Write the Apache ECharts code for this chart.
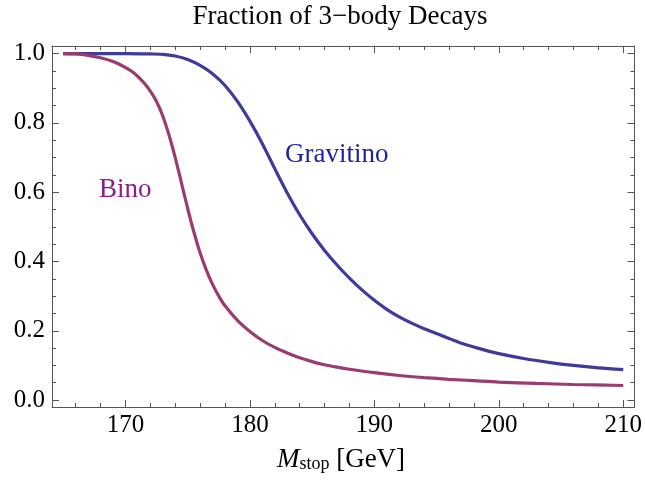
<!DOCTYPE html>
<html><head><meta charset="utf-8">
<script src="https://cdn.jsdelivr.net/npm/echarts@6/dist/echarts.min.js"></script>
<style>html,body{margin:0;padding:0;background:#fff}#c{width:645px;height:480px}</style>
</head><body><div id="c"></div>
<script>
const chartTitle = 'Fraction of 3\u2212body Decays';
const seriesNames = ['Gravitino', 'Bino'];
const xTicks = [170, 180, 190, 200, 210];
const xMinorTicks = [166, 168, 172, 174, 176, 178, 182, 184, 186, 188, 192, 194, 196, 198, 202, 204, 206, 208];
const yTicks = [0, 0.2, 0.4, 0.6, 0.8, 1.0];
const yMinorTicks = [0.05, 0.1, 0.15, 0.25, 0.3, 0.35, 0.45, 0.5, 0.55, 0.65, 0.7, 0.75, 0.85, 0.9, 0.95];

const gravX = [165, 168, 170, 172, 173, 174, 175, 176, 177, 178, 179, 180, 181, 182, 183, 184, 185, 186, 187, 188, 189, 190, 191, 192, 193, 194, 195, 196, 197, 198, 200, 202, 204, 206, 208, 210];
const gravY = [1.0, 1.0, 1.0, 0.999, 0.998, 0.993, 0.983, 0.966, 0.942, 0.908, 0.862, 0.805, 0.740, 0.668, 0.598, 0.535, 0.480, 0.432, 0.390, 0.352, 0.318, 0.288, 0.262, 0.240, 0.222, 0.206, 0.192, 0.178, 0.164, 0.153, 0.134, 0.120, 0.109, 0.100, 0.093, 0.088];

const binoX = [165, 166, 167, 168, 169, 170, 170.5, 171, 171.5, 172, 172.5, 173, 173.5, 174, 174.5, 175, 175.5, 176, 176.5, 177, 177.5, 178, 179, 180, 181, 182, 183, 184, 185, 186, 187, 188, 190, 192, 194, 196, 198, 200, 203, 206, 210];
const binoY = [1.0, 0.999, 0.995, 0.988, 0.977, 0.960, 0.949, 0.934, 0.915, 0.892, 0.862, 0.820, 0.765, 0.700, 0.627, 0.553, 0.485, 0.425, 0.375, 0.334, 0.300, 0.272, 0.230, 0.198, 0.172, 0.152, 0.136, 0.122, 0.111, 0.102, 0.095, 0.089, 0.079, 0.071, 0.065, 0.060, 0.056, 0.052, 0.048, 0.045, 0.042];

const FONT = 'Liberation Serif';
const AXC = '#555555';
const XMIN = 164.1, XMAX = 210.9, YMIN = -0.02, YMAX = 1.022;

function mkAxis(kind, position, ticks, len, showLine, showLabel) {
  const isX = kind === 'x';
  return {
    type: 'value', position: position, offset: 0,
    min: isX ? XMIN : YMIN, max: isX ? XMAX : YMAX,
    axisLine: { show: showLine, onZero: false, lineStyle: { color: AXC, width: 1 } },
    axisTick: { show: true, inside: true, length: len, customValues: ticks, lineStyle: { color: AXC, width: 1 } },
    axisLabel: {
      show: showLabel, customValues: ticks, fontFamily: FONT, fontSize: 25, color: '#000',
      margin: isX ? 6 : 7,
      formatter: isX ? (v => String(Math.round(v))) : (v => v.toFixed(1))
    },
    splitLine: { show: false }, minorTick: { show: false }
  };
}

const chart = echarts.init(document.getElementById('c'), null, { renderer: 'canvas' });
chart.setOption({
  animation: false,
  backgroundColor: '#fff',
  grid: { left: 52, right: 10, top: 46, bottom: 73, containLabel: false },
  xAxis: [
    mkAxis('x', 'bottom', xTicks, 7, true, true),
    mkAxis('x', 'bottom', xMinorTicks, 4, false, false),
    mkAxis('x', 'top', xTicks, 7, true, false),
    mkAxis('x', 'top', xMinorTicks, 4, false, false)
  ],
  yAxis: [
    mkAxis('y', 'left', yTicks, 7, true, true),
    mkAxis('y', 'left', yMinorTicks, 4, false, false),
    mkAxis('y', 'right', yTicks, 7, true, false),
    mkAxis('y', 'right', yMinorTicks, 4, false, false)
  ],
  series: [
    { name: seriesNames[0], type: 'line', xAxisIndex: 0, yAxisIndex: 0, showSymbol: false, symbol: 'none',
      smooth: 0.3,
      lineStyle: { color: '#3e3b9a', width: 3.2 }, data: gravX.map((x, i) => [x, gravY[i]]) },
    { name: seriesNames[1], type: 'line', xAxisIndex: 0, yAxisIndex: 0, showSymbol: false, symbol: 'none',
      smooth: 0.3,
      lineStyle: { color: '#9a3c72', width: 3.2 }, data: binoX.map((x, i) => [x, binoY[i]]) }
  ],
  graphic: [
    { type: 'text', x: 340, y: 3, style: { text: chartTitle, fontFamily: FONT, fontSize: 27, fill: '#000', align: 'center', verticalAlign: 'top' } },
    { type: 'text', x: 285, y: 155, style: { text: seriesNames[0], fontFamily: FONT, fontSize: 27, fill: '#1e1ea8', align: 'left', verticalAlign: 'middle' } },
    { type: 'text', x: 99, y: 190, style: { text: seriesNames[1], fontFamily: FONT, fontSize: 27, fill: '#8c1c8c', align: 'left', verticalAlign: 'middle' } },
    { type: 'text', x: 341, y: 446, style: {
        text: '{m|M}{s|stop}{n| [GeV]}', align: 'center', verticalAlign: 'top', fill: '#000',
        rich: {
          m: { fontFamily: FONT, fontSize: 27, fontStyle: 'italic', lineHeight: 27, verticalAlign: 'top' },
          s: { fontFamily: FONT, fontSize: 18, lineHeight: 18, verticalAlign: 'bottom' },
          n: { fontFamily: FONT, fontSize: 27, lineHeight: 27, verticalAlign: 'top' }
        } } }
  ]
});
</script></body></html>
